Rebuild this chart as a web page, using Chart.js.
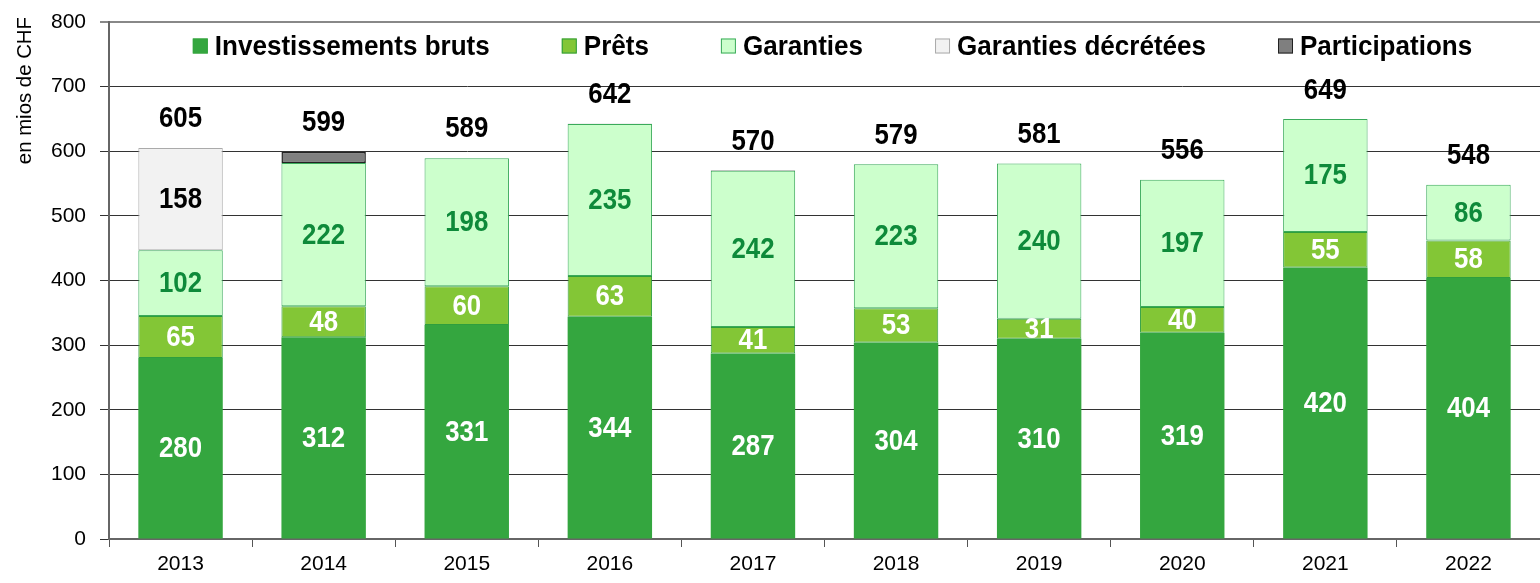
<!DOCTYPE html>
<html>
<head>
<meta charset="utf-8">
<script src="https://cdn.jsdelivr.net/npm/chart.js@4.4.1/dist/chart.umd.min.js"></script>
<style>
  html, body { margin: 0; padding: 0; background: #fff; }
  #wrap { width: 1540px; height: 583px; }
</style>
</head>
<body>
<div id="wrap"><canvas id="chart"></canvas></div>
<script>
const years = ['2013', '2014', '2015', '2016', '2017', '2018', '2019', '2020', '2021', '2022'];
const investissements = [280, 312, 331, 344, 287, 304, 310, 319, 420, 404];
const prets = [65, 48, 60, 63, 41, 53, 31, 40, 55, 58];
const garanties = [102, 222, 198, 235, 242, 223, 240, 197, 175, 86];
const garantiesDecretees = [158, 0, 0, 0, 0, 0, 0, 0, 0, 0];
const participations = [0, 17, 0, 0.5, 0.5, 0, 0, 0, 0, 0];
const totals = [605, 599, 589, 642, 570, 579, 581, 556, 649, 548];
const yTicks = [0, 100, 200, 300, 400, 500, 600, 700, 800];
const yTitle = 'en mios de CHF';

const FONT = '"Liberation Sans", Arial, sans-serif';

// no narrow font installed, so squeeze the text horizontally
function narrowText(ctx, text, x, y, sx) {
  ctx.save();
  ctx.translate(x, y);
  ctx.scale(sx, 1);
  ctx.fillText(text, 0, 0);
  ctx.restore();
}

// labels inside the segments + totals on top
const valueLabels = {
  id: 'valueLabels',
  afterDatasetsDraw(chart) {
    const ctx = chart.ctx;
    ctx.save();
    ctx.textAlign = 'center';
    ctx.textBaseline = 'middle';
    ctx.font = 'bold 29px ' + FONT;
    chart.data.datasets.forEach((ds, i) => {
      if (!ds.labelColor) return;
      chart.getDatasetMeta(i).data.forEach((bar, j) => {
        const v = ds.data[j];
        if (v < 5) return;
        ctx.fillStyle = ds.labelColor;
        narrowText(ctx, String(v), bar.x, (bar.y + bar.base) / 2 + 1, 0.89);
      });
    });
    const y = chart.scales.y;
    const meta = chart.getDatasetMeta(0);
    ctx.fillStyle = '#000';
    totals.forEach((t, j) => {
      narrowText(ctx, String(t), meta.data[j].x, y.getPixelForValue(t) - 29, 0.89);
    });
    ctx.restore();
  }
};

// legend inside the plot area + rotated axis title
const innerLegend = {
  id: 'innerLegend',
  afterDraw(chart) {
    const ctx = chart.ctx;
    const area = chart.chartArea;
    ctx.save();
    const sx = 0.93;
    ctx.font = 'bold 28px ' + FONT;
    ctx.textBaseline = 'middle';
    ctx.textAlign = 'left';
    const box = 15, gapBox = 7, gapItem = 72;
    const items = chart.data.datasets.map(ds => ({
      text: ds.label, fill: ds.backgroundColor, stroke: ds.borderColor,
      w: box + gapBox + ctx.measureText(ds.label).width * sx
    }));
    const total = items.reduce((s, it) => s + it.w, 0) + gapItem * (items.length - 1);
    let x = (area.left + area.right) / 2 + 8 - total / 2;
    const yc = 46;
    items.forEach(it => {
      ctx.fillStyle = it.fill;
      ctx.fillRect(x, yc - box / 2, box, box);
      ctx.strokeStyle = it.stroke;
      ctx.lineWidth = 1;
      ctx.strokeRect(x + 0.5, yc - box / 2 + 0.5, box - 1, box - 1);
      ctx.fillStyle = '#000';
      narrowText(ctx, it.text, x + box + gapBox, yc + 1, sx);
      x += it.w + gapItem;
    });

    ctx.font = '21px ' + FONT;
    ctx.textBaseline = 'middle';
    ctx.textAlign = 'right';
    ctx.fillStyle = '#000';
    ctx.translate(25, 17);
    ctx.rotate(-Math.PI / 2);
    ctx.scale(0.97, 1);
    ctx.fillText(yTitle, 0, 0);
    ctx.restore();
  }
};

new Chart(document.getElementById('chart'), {
  type: 'bar',
  data: {
    labels: years,
    datasets: [
      { label: 'Investissements bruts', data: investissements, backgroundColor: '#34A63F', borderColor: '#34A63F', borderWidth: 0, labelColor: '#fff' },
      { label: 'Prêts', data: prets, backgroundColor: '#83C636', borderColor: '#2E9E3E', borderWidth: 1, labelColor: '#fff' },
      { label: 'Garanties', data: garanties, backgroundColor: '#CCFFCC', borderColor: '#3AAA5A', borderWidth: 1, labelColor: '#0E8A3A' },
      { label: 'Garanties décrétées', data: garantiesDecretees, backgroundColor: '#F2F2F2', borderColor: '#AAAAAA', borderWidth: 1, labelColor: '#000' },
      { label: 'Participations', data: participations, backgroundColor: '#7F7F7F', borderColor: '#222222', borderWidth: 1.5 }
    ]
  },
  options: {
    responsive: true,
    maintainAspectRatio: false,
    animation: false,
    layout: { autoPadding: false, padding: { top: 22, right: 0, left: 0, bottom: 0 } },
    plugins: { legend: { display: false }, tooltip: { enabled: false } },
    datasets: { bar: { categoryPercentage: 1, barPercentage: 0.59, borderSkipped: false } },
    scales: {
      x: {
        stacked: true,
        grid: { display: true, drawOnChartArea: false, drawTicks: true, tickLength: 8, color: '#555', offset: true },
        border: { color: '#666', width: 2 },
        ticks: { color: '#000', font: { family: FONT, size: 21 }, padding: 5 },
        afterFit(s) { s.height = 44; s.paddingLeft = 0; s.paddingRight = 0; }
      },
      y: {
        stacked: true,
        min: 0,
        max: 800,
        afterBuildTicks(s) { s.ticks = yTicks.map(v => ({ value: v })); },
        grid: { color: ctx => ctx.tick && ctx.tick.value === 800 ? '#888' : '#333', lineWidth: ctx => ctx.tick && ctx.tick.value === 800 ? 2 : 1, tickLength: 9 },
        border: { color: '#666', width: 2 },
        ticks: { color: '#000', font: { family: FONT, size: 21 }, padding: 14 },
        afterFit(s) { s.width = 109; s.paddingTop = 0; s.paddingBottom = 0; }
      }
    }
  },
  plugins: [valueLabels, innerLegend]
});
</script>
</body>
</html>
